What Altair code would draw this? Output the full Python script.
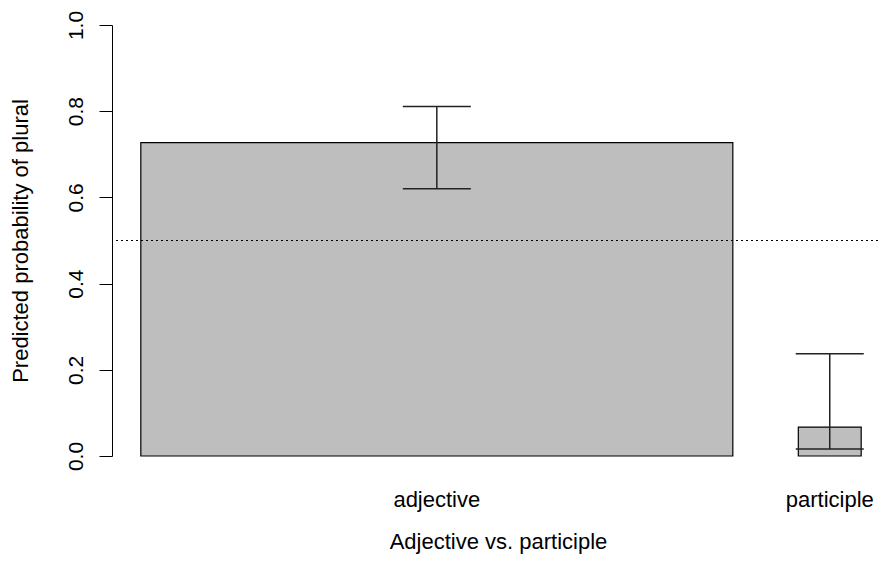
import altair as alt
import pandas as pd

# ---- data ----
categories = ["adjective", "participle"]
bar_widths = [0.904, 0.096]          # relative bar widths (share of observations)
probs = [0.727, 0.067]               # predicted probability of plural
lower = [0.620, 0.016]               # lower CI
upper = [0.811, 0.237]               # upper CI
threshold = [0.5]
y_ticks = [0.0, 0.2, 0.4, 0.6, 0.8, 1.0]

# R barplot layout: space = 0.2 * mean(width)
space = 0.2 * (sum(bar_widths) / len(bar_widths))
lefts, rights = [], []
pos = 0.0
for w in bar_widths:
    pos += space
    lefts.append(pos)
    pos += w
    rights.append(pos)
centers = [(l + r) / 2 for l, r in zip(lefts, rights)]

df = pd.DataFrame({
    "category": categories,
    "left": lefts,
    "right": rights,
    "center": centers,
    "prob": probs,
    "lower": lower,
    "upper": upper,
})
thr = pd.DataFrame({"y": threshold})

xmin = min(lefts) - 0.04 * (max(rights) - min(lefts))
xmax_r = max(rights) + 0.04 * (max(rights) - min(lefts))
W = 766
full_w = 778
xmax = xmin + (xmax_r - xmin) * W / full_w

FONT = "Liberation Sans"

xscale = alt.Scale(domain=[xmin, xmax], nice=False, zero=False)
yscale = alt.Scale(domain=[0, 1], nice=False, zero=True)

yaxis = alt.Axis(
    values=y_ticks, format=".1f", grid=False,
    labelAngle=270, labelAlign="center", labelBaseline="alphabetic",
    labelPadding=17, tickSize=13, tickColor="#000", domainColor="#000",
    labelFontSize=21, labelColor="#000", labelFont=FONT,
    title="Predicted probability of plural",
    titleFontSize=22, titleFontWeight="normal", titleFont=FONT, titleColor="#000",
    titleAngle=270, titleAlign="center", titleBaseline="alphabetic",
    titleX=-85, titleY=215.5,
)
xaxis = alt.Axis(
    labels=False, ticks=False, domain=False, grid=False,
    title="Adjective vs. participle",
    titleFontSize=22, titleFontWeight="normal", titleFont=FONT, titleColor="#000",
    titleBaseline="alphabetic", titleY=92, titleX=386,
)

base = alt.Chart(df)

bars = base.mark_rect(fill="#bebebe", stroke="#000", strokeWidth=1.2).encode(
    x=alt.X("left:Q", scale=xscale, axis=xaxis),
    x2="right:Q",
    y=alt.Y("prob:Q", scale=yscale, axis=yaxis),
    y2=alt.datum(0),
)

rule = alt.Chart(thr).mark_rule(color="#000", strokeWidth=1, strokeDash=[2, 3]).encode(
    y=alt.Y("y:Q", scale=yscale)
)

err = base.mark_rule(color="#222", strokeWidth=1.5).encode(
    x=alt.X("center:Q", scale=xscale),
    y=alt.Y("lower:Q", scale=yscale),
    y2="upper:Q",
)
cap_lo = base.mark_tick(orient="horizontal", size=68, thickness=1.5, color="#222", opacity=1).encode(
    x=alt.X("center:Q", scale=xscale),
    y=alt.Y("lower:Q", scale=yscale),
)
cap_hi = base.mark_tick(orient="horizontal", size=68, thickness=1.5, color="#222", opacity=1).encode(
    x=alt.X("center:Q", scale=xscale),
    y=alt.Y("upper:Q", scale=yscale),
)

labels = base.mark_text(
    font=FONT, fontSize=22, color="#000", align="center", baseline="alphabetic"
).encode(
    x=alt.X("center:Q", scale=xscale),
    y=alt.value(482),
    text="category:N",
)

chart = alt.layer(bars, rule, err, cap_lo, cap_hi, labels).properties(
    width=W, height=431,
    autosize=alt.AutoSizeParams(type="none"),
    padding={"left": 104, "top": 17, "right": 0, "bottom": 99},
    background="white",
).configure_view(stroke=None)

chart.save("out.html", embed_options={"renderer": "svg", "actions": False})
